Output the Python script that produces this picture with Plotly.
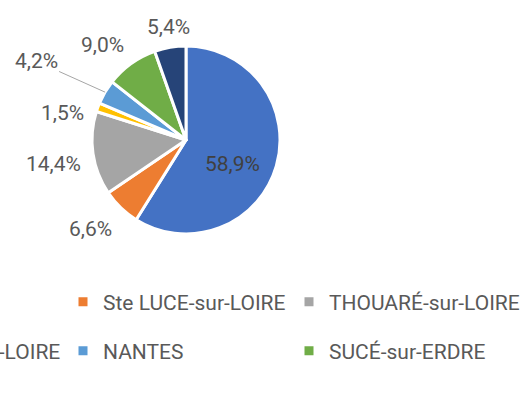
import math
import plotly.graph_objects as go

labels = ["CARQUEFOU", "Ste LUCE-sur-LOIRE", "THOUARÉ-sur-LOIRE", "MAUVES-sur-LOIRE",
          "NANTES", "SUCÉ-sur-ERDRE", "La CHAPELLE-sur-ERDRE"]
values = [58.9, 6.6, 14.4, 1.5, 4.2, 9.0, 5.4]
colors = ["#4472C4", "#ED7D31", "#A5A5A5", "#FFC000", "#5B9BD5", "#70AD47", "#264478"]

FONT = "Roboto"
TXT = "#595959"
FS = 21

W, H = 527, 403
cx, cy, r = 186, 140, 94


def px2paper(x, y):
    return x / W, (H - y) / H


fig = go.Figure()
fig.add_trace(go.Pie(
    labels=labels, values=values, sort=False, direction="clockwise", rotation=0,
    marker=dict(colors=colors, line=dict(color="white", width=3)),
    textposition="none",
    showlegend=False, hoverinfo="label+percent",
    domain=dict(x=[(cx - r) / W, (cx + r) / W], y=[(H - cy - r) / H, (H - cy + r) / H]),
))

# data labels, placed from each slice's mid angle (first one inside, others outside)
total = sum(values)
nudge = {0: (-3, 10), 1: (-8, -2), 2: (0, 5), 3: (-3, 18), 5: (-11, 7), 6: (2, 3)}
leader = {4: (-69, -31)}  # label moved out, joined by a leader line
cum = 0.0
for i, v in enumerate(values):
    mid = (cum + v / 2) / total * 2 * math.pi
    cum += v
    txt = f"{v / total * 100:.1f}%".replace(".", ",")
    s, c = math.sin(mid), math.cos(mid)
    hw, hh = 5.3 * len(txt), 8.5
    if i == 0:
        dist = 0.55 * r
        color = "#404040"
    else:
        dist = r + 12 + abs(hw * s) + abs(hh * c)
        color = TXT
    x, y = cx + dist * s, cy - dist * c
    dx, dy = nudge.get(i, (0, 0))
    x, y = x + dx, y + dy
    if i in leader:
        xp, yp = px2paper(cx + r * s, cy - r * c)
        ax, ay = leader[i]
        fig.add_annotation(x=xp, y=yp, xref="paper", yref="paper", text=txt,
                           showarrow=True, arrowhead=0, arrowwidth=1, arrowcolor="#A6A6A6",
                           ax=ax, ay=ay, standoff=0,
                           font=dict(family=FONT, size=FS, color=color))
    else:
        xp, yp = px2paper(x, y)
        fig.add_annotation(x=xp, y=yp, xref="paper", yref="paper", text=txt, showarrow=False,
                           xanchor="center", yanchor="middle",
                           font=dict(family=FONT, size=FS, color=color))

# legend: one legend per entry, laid out on a 3-column grid
col_text_x = [-119, 104, 330]
row_y = [302, 351, 430]
layout_legends = {}
for i, (lab, col) in enumerate(zip(labels, colors)):
    lg = "legend" if i == 0 else f"legend{i + 1}"
    fig.add_trace(go.Scatter(
        x=[None], y=[None], mode="markers", name=lab, legend=lg,
        marker=dict(symbol="square", size=9, color=col), hoverinfo="skip",
    ))
    lx, ly = px2paper(col_text_x[i % 3] - 41, row_y[i // 3])
    layout_legends[lg] = dict(orientation="h", font=dict(family=FONT, size=FS, color=TXT),
                              bgcolor="rgba(0,0,0,0)", xanchor="left", yanchor="middle",
                              x=lx, y=ly)

fig.update_layout(
    width=W, height=H, margin=dict(l=0, r=0, t=0, b=0, autoexpand=False),
    paper_bgcolor="white", plot_bgcolor="white",
    separators=", ",
    xaxis=dict(visible=False), yaxis=dict(visible=False),
    **layout_legends,
)
fig.write_html("out.html", config={"displayModeBar": False},
               post_script="document.body.style.margin='0px';")
